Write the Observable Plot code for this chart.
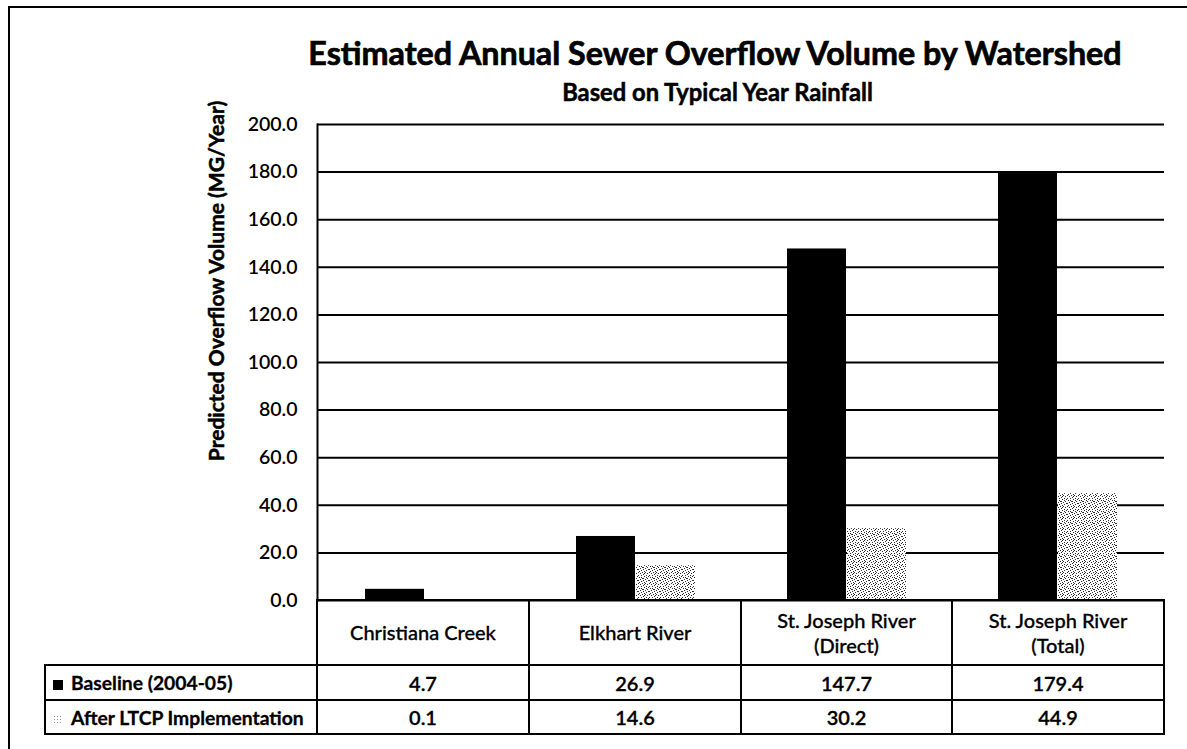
<!DOCTYPE html>
<html><head><meta charset="utf-8">
<script src="https://cdn.jsdelivr.net/npm/d3@7"></script>
<script src="https://cdn.jsdelivr.net/npm/@observablehq/plot@0.6"></script>
<style>
body{margin:0;background:#fff;font-family:Lato,"Open Sans",sans-serif;color:#000;}
#wrap{position:relative;width:1187px;height:749px;overflow:hidden;background:#fff;}
#frame{position:absolute;left:8px;top:6px;width:1200px;height:800px;border-left:2px solid #000;border-top:2px solid #000;}
#title{position:absolute;left:0;width:1430px;top:37px;text-align:center;font-weight:700;white-space:nowrap;line-height:1;-webkit-text-stroke:0.7px #000;}
#subtitle{position:absolute;left:0;width:1435px;top:81px;text-align:center;font-weight:700;white-space:nowrap;line-height:1;-webkit-text-stroke:0.5px #000;}
#ylabel{position:absolute;left:216px;top:281px;transform:translate(-50%,-50%) rotate(-90deg);font-weight:700;white-space:nowrap;line-height:1;-webkit-text-stroke:0.5px #000;}
#chart{position:absolute;left:0;top:0;}
#chart svg text{-webkit-text-stroke:0.35px #000;}
#tbl{position:absolute;left:44px;top:599px;border-collapse:collapse;table-layout:fixed;font-size:20px;}
#tbl td{border:2px solid #000;text-align:center;padding:0;font-weight:600;-webkit-text-stroke:0.3px #000;}
#tbl tr.head td{height:63px;font-weight:500;line-height:25px;}
#tbl tr.head td.blank{border-left:none;border-top:none;}
#tbl tr.r1 td{height:33px;}
#tbl tr.r2 td{height:32px;}
#tbl td.lab{text-align:left;padding-left:7px;white-space:nowrap;overflow:hidden;font-weight:700;font-size:19.3px;}
.sw{display:inline-block;width:10px;height:10px;margin-right:8px;vertical-align:0px;}
</style></head><body>
<div id="wrap">
<div id="frame"></div>
<div id="title"></div>
<div id="subtitle"></div>
<div id="ylabel"></div>
<div id="chart"></div>
<table id="tbl"></table>
</div>
<script>
// ---- data ----
const titleText = "Estimated Annual Sewer Overflow Volume by Watershed";
const subtitleText = "Based on Typical Year Rainfall";
const yLabelText = "Predicted Overflow Volume (MG/Year)";
const categories = ["Christiana Creek", "Elkhart River", "St. Joseph River (Direct)", "St. Joseph River (Total)"];
const categoryLines = [["Christiana Creek"], ["Elkhart River"], ["St. Joseph River", "(Direct)"], ["St. Joseph River", "(Total)"]];
const seriesNames = ["Baseline (2004-05)", "After LTCP Implementation"];
const baseline = [4.7, 26.9, 147.7, 179.4];
const afterLTCP = [0.1, 14.6, 30.2, 44.9];
const yTicks = [0, 20, 40, 60, 80, 100, 120, 140, 160, 180, 200];

const rows = categories.map((c, i) => ({category: c, baseline: baseline[i], after: afterLTCP[i]}));

// ---- text fitting ----
const ctx = document.createElement("canvas").getContext("2d");
function fitSize(text, weight, target) {
  ctx.font = `${weight} 100px Lato`;
  return 100 * target / ctx.measureText(text).width;
}
const t = document.getElementById("title");
t.textContent = titleText; t.style.fontSize = fitSize(titleText, 700, 818) + "px";
const s = document.getElementById("subtitle");
s.textContent = subtitleText; s.style.fontSize = fitSize(subtitleText, 700, 313) + "px";
const yl = document.getElementById("ylabel");
yl.textContent = yLabelText; yl.style.fontSize = fitSize(yLabelText, 700, 362) + "px";

// ---- chart ----
const svg = Plot.plot({
  width: 1187,
  height: 749,
  marginTop: 124,
  marginBottom: 149,
  marginLeft: 317,
  marginRight: 23,
  style: {background: "transparent", fontFamily: "Lato, sans-serif"},
  x: {domain: categories, padding: 0, axis: null},
  y: {domain: [0, 200], axis: null},
  marks: [
    Plot.ruleY(yTicks, {stroke: "#000", strokeWidth: 2}),
    Plot.barY(rows, {x: "category", y: "baseline", fill: "#000", insetLeft: 46, insetRight: 106}),
    Plot.barY(rows, {x: "category", y: "after", fill: "url(#stipple)", insetLeft: 106, insetRight: 46}),
    Plot.frame({anchor: "left", stroke: "#000", strokeWidth: 2}),
    Plot.axisY(yTicks, {tickSize: 0, tickPadding: 20, tickFormat: d => d.toFixed(1), fontSize: 19.5, fontWeight: 600, label: null, fill: "#000"})
  ]
});
// stipple pattern for the "after" series
const NS = "http://www.w3.org/2000/svg";
const defs = document.createElementNS(NS, "defs");
const pat = document.createElementNS(NS, "pattern");
pat.setAttribute("id", "stipple");
pat.setAttribute("width", "11"); pat.setAttribute("height", "11");
pat.setAttribute("patternUnits", "userSpaceOnUse");
const bg = document.createElementNS(NS, "rect");
bg.setAttribute("width", "11"); bg.setAttribute("height", "11"); bg.setAttribute("fill", "#fff");
pat.appendChild(bg);
[[0,0],[4,0],[7,0],[2,1],[9,1],[5,2],[0,3],[3,3],[8,3],[10,4],[1,5],[6,4],[4,6],[9,6],[2,7],[7,7],
 [0,8],[5,8],[10,8],[3,9],[8,9],[1,10],[6,10],[6,1],[3,5],[8,5],[5,6]].forEach(([px, py]) => {
  const r = document.createElementNS(NS, "rect");
  r.setAttribute("x", px); r.setAttribute("y", py);
  r.setAttribute("width", "1"); r.setAttribute("height", "1");
  r.setAttribute("fill", "#333");
  pat.appendChild(r);
});
defs.appendChild(pat);
svg.insertBefore(defs, svg.firstChild);
document.getElementById("chart").appendChild(svg);

// ---- data table ----
const tbl = document.getElementById("tbl");
const colg = document.createElement("colgroup");
[272, 212, 212, 211, 212].forEach(w => { const c = document.createElement("col"); c.style.width = w + "px"; colg.appendChild(c); });
tbl.appendChild(colg);
tbl.style.width = "1121px";
const head = document.createElement("tr"); head.className = "head";
const blank = document.createElement("td"); blank.className = "blank"; head.appendChild(blank);
categoryLines.forEach(lines => { const td = document.createElement("td"); td.innerHTML = lines.join("<br>"); head.appendChild(td); });
tbl.appendChild(head);
const swatches = ["background:#000", "background:#fff;background-image:radial-gradient(#999 0.6px, transparent 0.8px);background-size:3px 3px"];
[baseline, afterLTCP].forEach((vals, k) => {
  const tr = document.createElement("tr"); tr.className = "r" + (k + 1);
  const lab = document.createElement("td"); lab.className = "lab";
  lab.innerHTML = `<span class="sw" style="${swatches[k]}"></span>` + seriesNames[k];
  tr.appendChild(lab);
  vals.forEach(v => { const td = document.createElement("td"); td.textContent = v.toFixed(1); tr.appendChild(td); });
  tbl.appendChild(tr);
});
</script>
</body></html>
